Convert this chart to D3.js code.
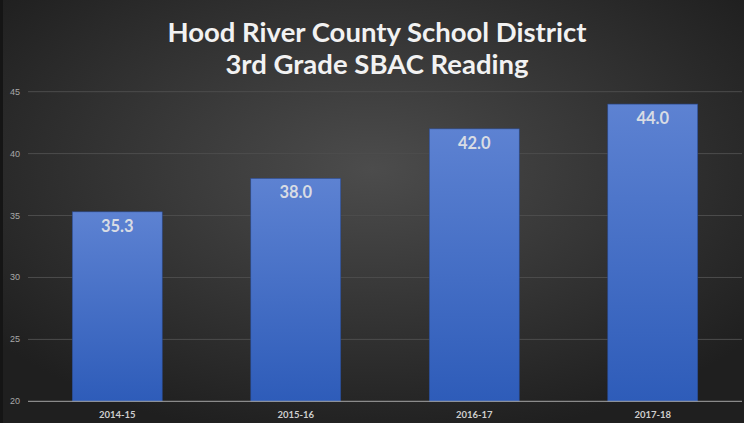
<!DOCTYPE html>
<html><head><meta charset="utf-8">
<script src="https://cdn.jsdelivr.net/npm/d3@7"></script>
<style>html,body{margin:0;padding:0;background:#2a2a2a;}svg{display:block;}</style>
</head><body>
<script>
const categories = ["2014-15","2015-16","2016-17","2017-18"];
const values = [35.3, 38.0, 42.0, 44.0];
const yTicks = [20,25,30,35,40,45];
const titleLines = ["Hood River County School District","3rd Grade SBAC Reading"];

const W=744,H=423;
const svg=d3.select("body").append("svg").attr("width",W).attr("height",H);
const defs=svg.append("defs");
const bg=defs.append("radialGradient").attr("id","bg").attr("cx","50%").attr("cy","40%").attr("r","65%");
bg.append("stop").attr("offset","0%").attr("stop-color","#4c4c4c");
bg.append("stop").attr("offset","100%").attr("stop-color","#1f1f1f");
const bar=defs.append("linearGradient").attr("id","bar").attr("x1",0).attr("y1",0).attr("x2",0).attr("y2",1);
bar.append("stop").attr("offset","0%").attr("stop-color","#5d82d2");
bar.append("stop").attr("offset","100%").attr("stop-color","#2e5cb9");

svg.append("rect").attr("width",W).attr("height",H).attr("fill","url(#bg)");
svg.append("rect").attr("width",3).attr("height",H).attr("fill","#151515");

const x=d3.scaleBand().domain(categories).range([28,742]).paddingInner(0.496).paddingOuter(0.248);
const y=d3.scaleLinear().domain([20,45]).range([401.3,91.7]);

// gridlines
svg.append("g").selectAll("line").data(yTicks.filter(t=>t!==20)).join("line")
  .attr("x1",28).attr("x2",742).attr("y1",d=>y(d)).attr("y2",d=>y(d))
  .attr("stroke","#4d4d4d").attr("stroke-width",1);

// y labels
svg.append("g").selectAll("text").data(yTicks).join("text")
  .attr("x",10).attr("y",d=>y(d)+3).text(d=>d)
  .attr("font-family","Liberation Sans, Arial, sans-serif").attr("font-size",9).attr("fill","#a8a8a8");

// bars
svg.append("g").selectAll("rect").data(values).join("rect")
  .attr("x",(d,i)=>x(categories[i])).attr("width",x.bandwidth())
  .attr("y",d=>y(d)).attr("height",d=>y(20)-y(d))
  .attr("fill","url(#bar)").attr("stroke","#2a4a90").attr("stroke-width",0.6);

// value labels
svg.append("g").selectAll("text").data(values).join("text")
  .attr("x",(d,i)=>x(categories[i])+x.bandwidth()/2).attr("y",d=>y(d)+20)
  .attr("text-anchor","middle").text(d=>d.toFixed(1))
  .attr("font-family","Lato, sans-serif").attr("font-weight","bold").attr("font-size",16.5).attr("fill","#d8dce4");

// baseline
svg.append("line").attr("x1",28).attr("x2",742).attr("y1",y(20)).attr("y2",y(20)).attr("stroke","#a6a6a6").attr("stroke-width",1);

// x labels
const xa=d3.axisBottom(x).tickSize(0).tickPadding(0);
const gx=svg.append("g").attr("transform",`translate(0,${y(20)})`).call(xa);
gx.select(".domain").remove();
gx.selectAll("text").attr("y",17).attr("dy",0)
  .attr("font-family","Lato, sans-serif").attr("font-weight","bold").attr("font-size",9.5).attr("fill","#cfcfcf");

// title
svg.append("g").selectAll("text").data(titleLines).join("text")
  .attr("x",377).attr("y",(d,i)=>42+i*32).attr("text-anchor","middle").text(d=>d)
  .attr("font-family","Lato, sans-serif").attr("font-weight","bold").attr("font-size",27.5).attr("fill","#f2f2f2");
</script>
</body></html>
